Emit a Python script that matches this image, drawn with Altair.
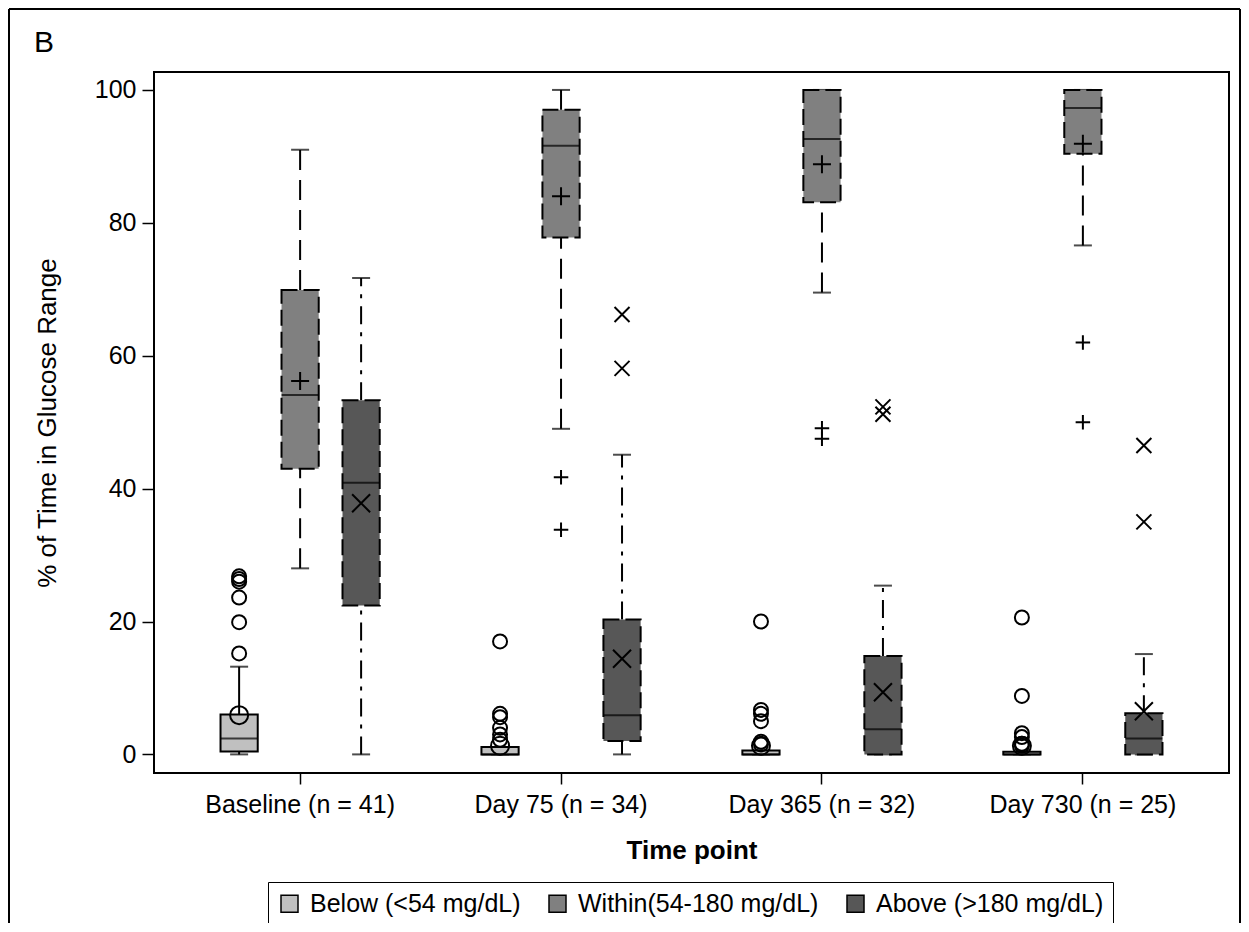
import altair as alt
import pandas as pd

FONT = "Liberation Sans"

cats = ["Baseline (n = 41)", "Day 75 (n = 34)", "Day 365 (n = 32)", "Day 730 (n = 25)"]
groups = ["Below (<54 mg/dL)", "Within(54-180 mg/dL)", "Above (>180 mg/dL)"]
fills = ["#c0c0c0", "#808080", "#575757"]

# values per time point: Baseline, Day 75, Day 365, Day 730
below_wlo = [0.0, 0.0, 0.0, 0.0]
below_q1 = [0.45, 0.0, 0.0, 0.0]
below_med = [2.4, 0.0, 0.0, 0.0]
below_q3 = [6.0, 1.1, 0.6, 0.4]
below_whi = [13.2, 1.1, 0.6, 0.4]
below_mean = [5.9, 1.3, 1.3, 1.3]
below_out = [[15.2, 19.9, 23.6, 26.0, 26.4, 26.8],
             [2.2, 3.0, 4.0, 5.6, 6.1, 17.0],
             [1.5, 1.9, 5.0, 6.1, 6.7, 20.0],
             [1.3, 1.6, 2.6, 3.2, 8.8, 20.6]]

within_wlo = [28.0, 49.0, 69.5, 76.6]
within_q1 = [43.0, 77.8, 83.1, 90.4]
within_med = [54.1, 91.6, 92.6, 97.3]
within_q3 = [69.9, 97.0, 100.0, 100.0]
within_whi = [91.0, 100.0, 100.0, 100.0]
within_mean = [56.2, 84.0, 88.8, 91.9]
within_out = [[], [33.8, 41.7], [47.5, 49.1], [50.0, 62.0]]

above_wlo = [0.0, 0.0, 0.0, 0.0]
above_q1 = [22.4, 2.0, 0.0, 0.0]
above_med = [40.9, 5.9, 3.8, 2.4]
above_q3 = [53.3, 20.3, 14.8, 6.2]
above_whi = [71.7, 45.1, 25.4, 15.1]
above_mean = [37.8, 14.4, 9.35, 6.5]
above_out = [[], [58.1, 66.2], [51.2, 52.3], [35.0, 46.5]]

panel_label = "B"

series = {
    groups[0]: (below_wlo, below_q1, below_med, below_q3, below_whi, below_mean, below_out),
    groups[1]: (within_wlo, within_q1, within_med, within_q3, within_whi, within_mean, within_out),
    groups[2]: (above_wlo, above_q1, above_med, above_q3, above_whi, above_mean, above_out),
}

stats_rows, whisk_rows, cap_rows, out_rows = [], [], [], []
for g, (wlo, q1, med, q3, whi, mean, outs) in series.items():
    for i, c in enumerate(cats):
        stats_rows.append(dict(cat=c, group=g, q1=q1[i], med=med[i], q3=q3[i], mean=mean[i]))
        whisk_rows.append(dict(cat=c, group=g, a=wlo[i], b=q1[i]))
        whisk_rows.append(dict(cat=c, group=g, a=q3[i], b=whi[i]))
        cap_rows.append(dict(cat=c, group=g, v=wlo[i]))
        cap_rows.append(dict(cat=c, group=g, v=whi[i]))
        for o in outs[i]:
            out_rows.append(dict(cat=c, group=g, v=o))

stats = pd.DataFrame(stats_rows)
whisk = pd.DataFrame(whisk_rows)
caps = pd.DataFrame(cap_rows)
outl = pd.DataFrame(out_rows)

PLUS = "M-1,0L1,0M0,-1L0,1"
CROSS = "M-1,-1L1,1M-1,1L1,-1"

YTITLE = "% of Time in Glucose Range"
yscale = alt.Scale(domain=[-2.8, 102.7], nice=False, zero=False)
yaxis = alt.Axis(values=[0, 20, 40, 60, 80, 100], tickSize=12, tickWidth=1.5, tickColor="black",
                 labelFontSize=25, labelColor="black", labelPadding=6, domain=False, grid=False,
                 titleFontSize=26, titleFontWeight="normal", titleColor="black", titlePadding=34)
xaxis = alt.Axis(labelAngle=0, tickSize=11, tickWidth=1.5, tickColor="black", labelFontSize=25,
                 labelColor="black", labelPadding=8, labelLimit=0, domain=False, grid=False,
                 titleFontSize=26, titleFontWeight="bold", titleColor="black", titlePadding=20)


def X():
    return alt.X("cat:N", sort=cats, title="Time point",
                 scale=alt.Scale(domain=cats, paddingInner=0, paddingOuter=0.06), axis=xaxis)


def XO():
    return alt.XOffset("group:N", sort=groups,
                       scale=alt.Scale(domain=groups, paddingInner=0.39, paddingOuter=0.834))


def Y(f):
    return alt.Y(f, type="quantitative", title=YTITLE, scale=yscale, axis=yaxis)


whisker_layer = alt.Chart(whisk).mark_rule(color="black", strokeWidth=2).encode(
    x=X(), xOffset=XO(), y=Y("a"), y2="b",
    strokeDash=alt.StrokeDash("group:N", scale=alt.Scale(domain=groups, range=[[1, 0], [20, 10], [18, 8, 4, 8]]),
                              legend=None),
)

cap_layer = alt.Chart(caps).mark_tick(color="black", size=18, thickness=2).encode(
    x=X(), xOffset=XO(), y=Y("v"))

box_fill = alt.Chart(stats).mark_bar().encode(
    x=X(), xOffset=XO(), y=Y("q1"), y2="q3",
    fill=alt.Fill("group:N", sort=groups, scale=alt.Scale(domain=groups, range=fills),
                  legend=alt.Legend(title=None, orient="none", legendX=114, legendY=810, direction="horizontal",
                                    columns=3, symbolType="square", symbolSize=289, symbolStrokeColor="black",
                                    symbolStrokeWidth=1.5, labelFontSize=25, labelColor="black", labelFont=FONT,
                                    labelLimit=0, columnPadding=24, padding=9, strokeColor="black",
                                    labelOffset=8)),
)

box_border = alt.Chart(stats).mark_bar(fillOpacity=0, stroke="black", strokeWidth=2).encode(
    x=X(), xOffset=XO(), y=Y("q1"), y2="q3",
    strokeDash=alt.StrokeDash("group:N", scale=alt.Scale(domain=groups, range=[[1, 0], [16, 6], [16, 6]]),
                              legend=None),
)

median_layer = alt.Chart(stats).mark_tick(color="black", size=37, thickness=2).encode(
    x=X(), xOffset=XO(), y=Y("med"))

mean_layer = alt.Chart(stats).mark_point(filled=False, color="black", strokeWidth=2, opacity=1).encode(
    x=X(), xOffset=XO(), y=Y("mean"),
    shape=alt.Shape("group:N", scale=alt.Scale(domain=groups, range=["circle", PLUS, CROSS]), legend=None),
    size=alt.Size("group:N", scale=alt.Scale(domain=groups, range=[324, 324, 420]), legend=None),
)

out_layer = alt.Chart(outl).mark_point(filled=False, color="black", strokeWidth=2, opacity=1).encode(
    x=X(), xOffset=XO(), y=Y("v"),
    shape=alt.Shape("group:N", scale=alt.Scale(domain=groups, range=["circle", PLUS, CROSS]), legend=None),
    size=alt.Size("group:N", scale=alt.Scale(domain=groups, range=[196, 225, 225]), legend=None),
)

frame_df = pd.DataFrame({"label": [panel_label]})
frame_left = alt.Chart(frame_df).mark_rule(color="black", strokeWidth=2).encode(
    x=alt.value(-145), y=alt.value(-63), y2=alt.value(870))
frame_top = alt.Chart(frame_df).mark_rule(color="black", strokeWidth=2).encode(
    x=alt.value(-145), x2=alt.value(1086), y=alt.value(-63))
frame_right = alt.Chart(frame_df).mark_rule(color="black", strokeWidth=2).encode(
    x=alt.value(1086), y=alt.value(-63), y2=alt.value(870))
label_layer = alt.Chart(frame_df).mark_text(fontSize=30, align="left", baseline="alphabetic",
                                            color="black", font=FONT).encode(
    x=alt.value(-120), y=alt.value(-20), text="label:N")

chart = alt.layer(
    whisker_layer, cap_layer, box_fill, box_border, median_layer, mean_layer, out_layer,
    frame_left, frame_top, frame_right, label_layer,
).resolve_scale(
    strokeDash="independent", size="independent", shape="independent"
).properties(
    width=1075, height=701,
    autosize=alt.AutoSizeParams(type="none"),
    padding={"left": 146, "top": 64, "right": 12, "bottom": 150},
).configure(font=FONT).configure_view(stroke="black", strokeWidth=2)

chart.save("out.html", embed_options={"renderer": "svg", "actions": False})
